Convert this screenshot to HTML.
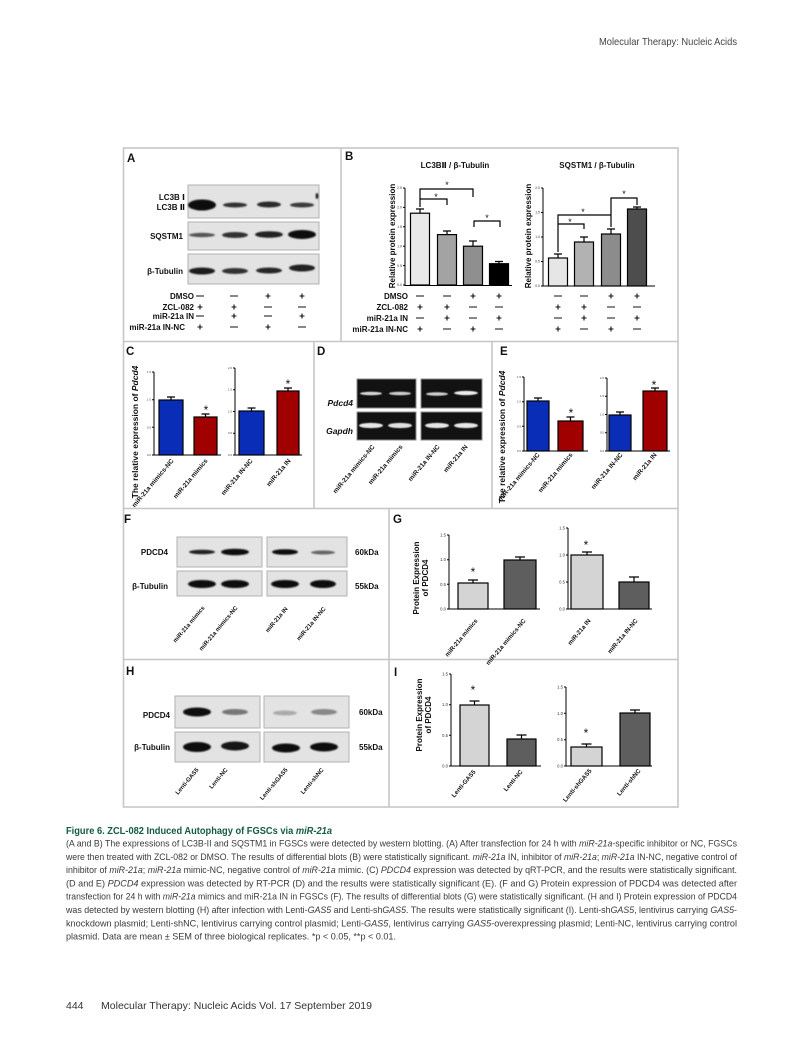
<!DOCTYPE html>
<html>
<head>
<meta charset="utf-8">
<style>
  html,body{margin:0;padding:0;background:#fff;}
  svg{display:block;}
  text{font-family:"Liberation Sans","DejaVu Sans",sans-serif;}
</style>
</head>
<body>
<svg width="803" height="1043" viewBox="0 0 803 1043" xmlns="http://www.w3.org/2000/svg">
<defs>
  <filter id="b" x="-30%" y="-100%" width="160%" height="300%"><feGaussianBlur stdDeviation="0.9"/></filter>
  <filter id="b2" x="-30%" y="-100%" width="160%" height="300%"><feGaussianBlur stdDeviation="0.6"/></filter>
</defs>
<rect width="803" height="1043" fill="#fff"/>

<!-- Header -->
<text x="737" y="45" text-anchor="end" font-size="10.5" fill="#444" textLength="138" lengthAdjust="spacingAndGlyphs">Molecular Therapy: Nucleic Acids</text>

<!-- Figure frame -->
<g fill="none" stroke="#c6c6c6" stroke-width="1.6">
  <rect x="123.5" y="148" width="554.5" height="659"/>
  <path d="M123.5,341.5 H678 M123.5,508.5 H678 M123.5,659.5 H678"/>
  <path d="M341,148 V341.5 M314,341.5 V508.5 M492,341.5 V508.5 M389,508.5 V807"/>
</g>

<!-- Panel letters -->
<g font-size="11.5" font-weight="bold" fill="#111">
  <text x="127" y="162">A</text>
  <text x="345" y="160">B</text>
  <text x="126" y="355">C</text>
  <text x="317" y="355">D</text>
  <text x="500" y="355">E</text>
  <text x="124" y="523">F</text>
  <text x="393" y="523">G</text>
  <text x="126" y="675">H</text>
  <text x="394" y="676">I</text>
</g>

<!-- ============ Panel A ============ -->
<g stroke="#b0b0b0" stroke-width="1" fill="#e3e3e3">
  <rect x="188" y="185" width="131" height="33"/>
  <rect x="188" y="222" width="131" height="28"/>
  <rect x="188" y="254" width="131" height="30"/>
</g>
<g filter="url(#b)">
  <ellipse cx="202" cy="205" rx="14" ry="5.5" fill="#0a0a0a"/>
  <ellipse cx="235" cy="205" rx="12" ry="2.5" fill="#333"/>
  <ellipse cx="269" cy="204.5" rx="12" ry="3" fill="#2a2a2a"/>
  <ellipse cx="302" cy="205" rx="12" ry="2.5" fill="#3a3a3a"/>
  <ellipse cx="317" cy="196" rx="1.3" ry="3" fill="#111"/>
  <ellipse cx="202" cy="235" rx="13" ry="2.2" fill="#555"/>
  <ellipse cx="235" cy="235" rx="13" ry="3" fill="#333"/>
  <ellipse cx="269" cy="234.5" rx="14" ry="3.3" fill="#222"/>
  <ellipse cx="302" cy="234.5" rx="14" ry="4.5" fill="#111"/>
  <ellipse cx="202" cy="271" rx="13" ry="3.5" fill="#1a1a1a"/>
  <ellipse cx="235" cy="271" rx="13" ry="3" fill="#333"/>
  <ellipse cx="269" cy="270.5" rx="13" ry="3" fill="#262626"/>
  <ellipse cx="302" cy="268" rx="13" ry="3.5" fill="#222"/>
</g>
<g font-size="8" font-weight="bold" fill="#111" text-anchor="end">
  <text x="185" y="200">LC3B Ⅰ</text>
  <text x="185" y="210">LC3B Ⅱ</text>
  <text x="183" y="239">SQSTM1</text>
  <text x="183" y="274">β-Tubulin</text>
  <text x="194" y="299">DMSO</text>
  <text x="194" y="310">ZCL-082</text>
  <text x="194" y="319">miR-21a IN</text>
  <text x="185" y="330">miR-21a IN-NC</text>
</g>
<g stroke="#111" stroke-width="1.1" fill="none">
  <!-- DMSO: - - + + -->
  <path d="M196,296 H204 M230,296 H238 M265.5,296 H270.5 M268,293.5 V298.5 M299.5,296 H304.5 M302,293.5 V298.5"/>
  <!-- ZCL: + + - - -->
  <path d="M197.5,307 H202.5 M200,304.5 V309.5 M231.5,307 H236.5 M234,304.5 V309.5 M264,307 H272 M298,307 H306"/>
  <!-- IN: - + - + -->
  <path d="M196,316 H204 M231.5,316 H236.5 M234,313.5 V318.5 M264,316 H272 M299.5,316 H304.5 M302,313.5 V318.5"/>
  <!-- IN-NC: + - + - -->
  <path d="M197.5,327 H202.5 M200,324.5 V329.5 M230,327 H238 M265.5,327 H270.5 M268,324.5 V329.5 M298,327 H306"/>
</g>

<!-- ============ Panel B ============ -->
<g font-size="8" font-weight="bold" fill="#111" text-anchor="middle">
  <text x="455" y="168">LC3BⅡ / β-Tubulin</text>
  <text x="597" y="168">SQSTM1 / β-Tubulin</text>
  <text transform="translate(395,236) rotate(-90)">Relative protein  expression</text>
  <text transform="translate(531,236) rotate(-90)">Relative protein  expression</text>
</g>
<!-- chart B1 -->
<g stroke="#000" stroke-width="1" fill="none">
  <path d="M405,188 V285.5 H512"/>
  <path d="M403,285 H405 M403,265.6 H405 M403,246.2 H405 M403,226.8 H405 M403,207.4 H405 M403,188 H405"/>
</g>
<g font-size="3.5" fill="#333" text-anchor="end">
  <text x="402" y="286.2">0.0</text><text x="402" y="266.8">0.5</text><text x="402" y="247.4">1.0</text>
  <text x="402" y="228">1.5</text><text x="402" y="208.6">2.0</text><text x="402" y="189.2">2.5</text>
</g>
<g stroke="#000" stroke-width="1.2">
  <rect x="410.5" y="213.2" width="19" height="71.8" fill="#e9e9e9"/>
  <rect x="437.5" y="234.6" width="19" height="50.4" fill="#a3a3a3"/>
  <rect x="463.5" y="246.2" width="19" height="38.8" fill="#8f8f8f"/>
  <rect x="489.5" y="263.7" width="19" height="21.3" fill="#000"/>
  <path fill="none" d="M420,213.2 V209 M416,209 H424 M447,234.6 V231 M443,231 H451 M473,246.2 V241 M469,241 H477 M499,263.7 V261.5 M495,261.5 H503"/>
  <path fill="none" d="M420,207 V189 H473 V197 M420,199 H447 V205 M474,227 V221 H500 V227"/>
</g>
<g font-size="9" fill="#111" text-anchor="middle">
  <text x="436" y="200">*</text><text x="447" y="188">*</text><text x="487" y="221">*</text>
</g>
<!-- chart B2 -->
<g stroke="#000" stroke-width="1" fill="none">
  <path d="M543,188 V286 H655"/>
  <path d="M541,286 H543 M541,261.5 H543 M541,237 H543 M541,212.5 H543 M541,188 H543"/>
</g>
<g font-size="3.5" fill="#333" text-anchor="end">
  <text x="540" y="287.2">0.0</text><text x="540" y="262.7">0.5</text><text x="540" y="238.2">1.0</text>
  <text x="540" y="213.7">1.5</text><text x="540" y="189.2">2.0</text>
</g>
<g stroke="#000" stroke-width="1.2">
  <rect x="548.5" y="258" width="19" height="28" fill="#e6e6e6"/>
  <rect x="574.5" y="242" width="19" height="44" fill="#b2b2b2"/>
  <rect x="601.5" y="234" width="19" height="52" fill="#8c8c8c"/>
  <rect x="627.5" y="209" width="19" height="77" fill="#4d4d4d"/>
  <path fill="none" d="M558,258 V254 M554,254 H562 M584,242 V237 M580,237 H588 M611,234 V229 M607,229 H615 M637,209 V207 M633,207 H641"/>
  <path fill="none" d="M558,252 V224 H584 V229 M558,224 V215 H611 V227 M611,227 V198 H637 V205"/>
</g>
<g font-size="9" fill="#111" text-anchor="middle">
  <text x="570" y="225">*</text><text x="583" y="215">*</text><text x="624" y="197">*</text>
</g>
<!-- table B -->
<g font-size="8" font-weight="bold" fill="#111" text-anchor="end">
  <text x="408" y="299">DMSO</text>
  <text x="408" y="310">ZCL-082</text>
  <text x="408" y="321">miR-21a IN</text>
  <text x="408" y="332">miR-21a IN-NC</text>
</g>
<g stroke="#111" stroke-width="1.1" fill="none">
  <!-- row1 - - + + -->
  <path d="M416,296 H424 M443,296 H451 M470.5,296 H475.5 M473,293.5 V298.5 M496.5,296 H501.5 M499,293.5 V298.5"/>
  <path d="M554,296 H562 M580,296 H588 M608.5,296 H613.5 M611,293.5 V298.5 M634.5,296 H639.5 M637,293.5 V298.5"/>
  <!-- row2 + + - - -->
  <path d="M417.5,307 H422.5 M420,304.5 V309.5 M444.5,307 H449.5 M447,304.5 V309.5 M469,307 H477 M495,307 H503"/>
  <path d="M555.5,307 H560.5 M558,304.5 V309.5 M581.5,307 H586.5 M584,304.5 V309.5 M607,307 H615 M633,307 H641"/>
  <!-- row3 - + - + -->
  <path d="M416,318 H424 M444.5,318 H449.5 M447,315.5 V320.5 M469,318 H477 M496.5,318 H501.5 M499,315.5 V320.5"/>
  <path d="M554,318 H562 M581.5,318 H586.5 M584,315.5 V320.5 M607,318 H615 M634.5,318 H639.5 M637,315.5 V320.5"/>
  <!-- row4 + - + - -->
  <path d="M417.5,329 H422.5 M420,326.5 V331.5 M443,329 H451 M470.5,329 H475.5 M473,326.5 V331.5 M495,329 H503"/>
  <path d="M555.5,329 H560.5 M558,326.5 V331.5 M580,329 H588 M608.5,329 H613.5 M611,326.5 V331.5 M633,329 H641"/>
</g>

<!-- ============ Panel C ============ -->
<text transform="translate(138,432) rotate(-90)" text-anchor="middle" font-size="8.5" font-weight="bold" fill="#111">The relative expression of <tspan font-style="italic">Pdcd4</tspan></text>
<g stroke="#000" stroke-width="1" fill="none">
  <path d="M154,372 V455 H221"/>
  <path d="M152,372 H154 M152,399.7 H154 M152,427.3 H154 M152,455 H154"/>
  <path d="M235,368 V455 H302"/>
  <path d="M233,368 H235 M233,389.75 H235 M233,411.5 H235 M233,433.25 H235 M233,455 H235"/>
</g>
<g font-size="3" fill="#444" text-anchor="end">
  <text x="151" y="373">1.5</text><text x="151" y="400.7">1.0</text><text x="151" y="428.3">0.5</text><text x="151" y="456">0.0</text>
  <text x="232" y="369">2.0</text><text x="232" y="390.7">1.5</text><text x="232" y="412.5">1.0</text><text x="232" y="434.2">0.5</text><text x="232" y="456">0.0</text>
</g>
<g stroke="#000" stroke-width="1.2">
  <rect x="159" y="400" width="24" height="55" fill="#0a2db8"/>
  <rect x="194" y="417" width="23" height="38" fill="#a10000"/>
  <rect x="239" y="411" width="25" height="44" fill="#0a2db8"/>
  <rect x="277" y="391" width="22" height="64" fill="#a10000"/>
  <path fill="none" d="M171,400 V397 M167,397 H175 M205.5,417 V414 M201.5,414 H209.5 M251.5,411 V408 M247.5,408 H255.5 M288,391 V388 M284,388 H292"/>
</g>
<g font-size="12" fill="#111" text-anchor="middle">
  <text x="206" y="414">*</text><text x="288" y="388">*</text>
</g>
<g font-size="6.5" font-weight="bold" fill="#111" text-anchor="end">
  <text transform="translate(174,461) rotate(-50)">miR-21a mimics-NC</text>
  <text transform="translate(208,461) rotate(-50)">miR-21a mimics</text>
  <text transform="translate(253,461) rotate(-50)">miR-21a IN-NC</text>
  <text transform="translate(291,461) rotate(-50)">miR-21a IN</text>
</g>

<!-- ============ Panel D ============ -->
<g fill="#121212" stroke="#8a8a8a" stroke-width="1">
  <rect x="357" y="379" width="59" height="29"/>
  <rect x="421" y="379" width="61" height="29"/>
  <rect x="357" y="412" width="59" height="28"/>
  <rect x="421" y="412" width="61" height="28"/>
</g>
<g filter="url(#b2)">
  <ellipse cx="371" cy="393.5" rx="11" ry="1.7" fill="#d8d8d8"/>
  <ellipse cx="400" cy="393.5" rx="11" ry="1.7" fill="#cfcfcf"/>
  <ellipse cx="437" cy="394" rx="11" ry="1.7" fill="#cfcfcf"/>
  <ellipse cx="466" cy="393" rx="12" ry="2.1" fill="#ececec"/>
  <ellipse cx="371" cy="425.5" rx="12" ry="2.6" fill="#e6e6e6"/>
  <ellipse cx="400" cy="425.5" rx="12" ry="2.6" fill="#e0e0e0"/>
  <ellipse cx="437" cy="425.5" rx="12" ry="2.6" fill="#e6e6e6"/>
  <ellipse cx="466" cy="425.5" rx="12" ry="2.6" fill="#e6e6e6"/>
</g>
<g font-size="8.5" font-weight="bold" font-style="italic" fill="#111" text-anchor="end">
  <text x="353" y="406">Pdcd4</text>
  <text x="353" y="434">Gapdh</text>
</g>
<g font-size="6.5" font-weight="bold" fill="#111" text-anchor="end">
  <text transform="translate(375,447) rotate(-50)">miR-21a mimics-NC</text>
  <text transform="translate(403,447) rotate(-50)">miR-21a mimics</text>
  <text transform="translate(440,447) rotate(-50)">miR-21a IN-NC</text>
  <text transform="translate(468,447) rotate(-50)">miR-21a IN</text>
</g>

<!-- ============ Panel E ============ -->
<text transform="translate(505,437) rotate(-90)" text-anchor="middle" font-size="8.5" font-weight="bold" fill="#111">The relative expression of <tspan font-style="italic">Pdcd4</tspan></text>
<g stroke="#000" stroke-width="1" fill="none">
  <path d="M524,377 V451 H588"/>
  <path d="M522,377 H524 M522,401.7 H524 M522,426.3 H524 M522,451 H524"/>
  <path d="M607,378 V451 H670"/>
  <path d="M605,378 H607 M605,396.25 H607 M605,414.5 H607 M605,432.75 H607 M605,451 H607"/>
</g>
<g font-size="3" fill="#444" text-anchor="end">
  <text x="521" y="378">1.5</text><text x="521" y="402.7">1.0</text><text x="521" y="427.3">0.5</text><text x="521" y="452">0.0</text>
  <text x="604" y="379">2.0</text><text x="604" y="397.2">1.5</text><text x="604" y="415.5">1.0</text><text x="604" y="433.7">0.5</text><text x="604" y="452">0.0</text>
</g>
<g stroke="#000" stroke-width="1.2">
  <rect x="527" y="401" width="22" height="50" fill="#0a2db8"/>
  <rect x="558" y="421" width="25" height="30" fill="#a10000"/>
  <rect x="609" y="415" width="22" height="36" fill="#0a2db8"/>
  <rect x="643" y="391" width="24" height="60" fill="#a10000"/>
  <path fill="none" d="M538,401 V398 M534,398 H542 M570.5,421 V417 M566.5,417 H574.5 M620,415 V412 M616,412 H624 M655,391 V388 M651,388 H659"/>
</g>
<g font-size="12" fill="#111" text-anchor="middle">
  <text x="571" y="417">*</text><text x="654" y="389">*</text>
</g>
<g font-size="6.5" font-weight="bold" fill="#111" text-anchor="end">
  <text transform="translate(540,455) rotate(-50)">miR-21a mimics-NC</text>
  <text transform="translate(573,455) rotate(-50)">miR-21a mimics</text>
  <text transform="translate(623,455) rotate(-50)">miR-21a IN-NC</text>
  <text transform="translate(657,455) rotate(-50)">miR-21a IN</text>
</g>

<!-- ============ Panel F ============ -->
<g stroke="#b0b0b0" stroke-width="1" fill="#e3e3e3">
  <rect x="177" y="537" width="85" height="30"/>
  <rect x="267" y="537" width="80" height="30"/>
  <rect x="177" y="571" width="85" height="25"/>
  <rect x="267" y="571" width="80" height="25"/>
</g>
<g filter="url(#b)">
  <ellipse cx="202" cy="552" rx="13" ry="2.3" fill="#222"/>
  <ellipse cx="235" cy="552" rx="14" ry="3.3" fill="#111"/>
  <ellipse cx="285" cy="552" rx="13" ry="2.8" fill="#111"/>
  <ellipse cx="323" cy="552.5" rx="12" ry="2" fill="#666"/>
  <ellipse cx="202" cy="584" rx="14" ry="4" fill="#0d0d0d"/>
  <ellipse cx="235" cy="584" rx="14" ry="4" fill="#0d0d0d"/>
  <ellipse cx="285" cy="584" rx="14" ry="4" fill="#0d0d0d"/>
  <ellipse cx="323" cy="584" rx="13" ry="4" fill="#0d0d0d"/>
</g>
<g font-size="8" font-weight="bold" fill="#111">
  <text x="168" y="555" text-anchor="end">PDCD4</text>
  <text x="168" y="589" text-anchor="end">β-Tubulin</text>
  <text x="355" y="555">60kDa</text>
  <text x="355" y="589">55kDa</text>
</g>
<g font-size="6" font-weight="bold" fill="#111" text-anchor="end">
  <text transform="translate(205,608) rotate(-50)">miR-21a mimics</text>
  <text transform="translate(238,608) rotate(-50)">miR-21a mimics-NC</text>
  <text transform="translate(288,609) rotate(-50)">miR-21a IN</text>
  <text transform="translate(326,609) rotate(-50)">miR-21a IN-NC</text>
</g>

<!-- ============ Panel G ============ -->
<g font-size="8" font-weight="bold" fill="#111" text-anchor="middle">
  <text transform="translate(419,578) rotate(-90)">Protein Expression</text>
  <text transform="translate(428,578) rotate(-90)">of PDCD4</text>
</g>
<g stroke="#000" stroke-width="1" fill="none">
  <path d="M449,535 V609 H540"/>
  <path d="M447,535 H449 M447,559.7 H449 M447,584.3 H449 M447,609 H449"/>
  <path d="M568,528 V609 H652"/>
  <path d="M566,528 H568 M566,555 H568 M566,582 H568 M566,609 H568"/>
</g>
<g font-size="4.2" fill="#333" text-anchor="end">
  <text x="446" y="536.5">1.5</text><text x="446" y="561.2">1.0</text><text x="446" y="585.8">0.5</text><text x="446" y="610.5">0.0</text>
  <text x="565" y="529.5">1.5</text><text x="565" y="556.5">1.0</text><text x="565" y="583.5">0.5</text><text x="565" y="610.5">0.0</text>
</g>
<g stroke="#000" stroke-width="1.2">
  <rect x="458" y="583" width="30" height="26" fill="#d4d4d4"/>
  <rect x="504" y="560" width="32" height="49" fill="#5e5e5e"/>
  <rect x="571" y="555" width="32" height="54" fill="#d4d4d4"/>
  <rect x="619" y="582" width="30" height="27" fill="#5e5e5e"/>
  <path fill="none" d="M473,583 V580 M468,580 H478 M520,560 V557 M515,557 H525 M587,555 V552 M582,552 H592 M634,582 V577 M629,577 H639"/>
</g>
<g font-size="12" fill="#111" text-anchor="middle">
  <text x="473" y="576">*</text><text x="586" y="549">*</text>
</g>
<g font-size="6.2" font-weight="bold" fill="#111" text-anchor="end">
  <text transform="translate(478,621) rotate(-50)">miR-21a mimics</text>
  <text transform="translate(526,621) rotate(-50)">miR-21a mimics-NC</text>
  <text transform="translate(591,621) rotate(-50)">miR-21a IN</text>
  <text transform="translate(638,621) rotate(-50)">miR-21a IN-NC</text>
</g>

<!-- ============ Panel H ============ -->
<g stroke="#b0b0b0" stroke-width="1" fill="#e3e3e3">
  <rect x="175" y="696" width="85" height="32"/>
  <rect x="264" y="696" width="85" height="32"/>
  <rect x="175" y="732" width="85" height="30"/>
  <rect x="264" y="732" width="85" height="30"/>
</g>
<g filter="url(#b)">
  <ellipse cx="197" cy="712" rx="14" ry="4.5" fill="#0d0d0d"/>
  <ellipse cx="235" cy="712" rx="13" ry="3" fill="#777"/>
  <ellipse cx="285" cy="713" rx="12" ry="2.5" fill="#aaa"/>
  <ellipse cx="324" cy="712" rx="13" ry="3" fill="#888"/>
  <ellipse cx="197" cy="747" rx="14" ry="5" fill="#0a0a0a"/>
  <ellipse cx="235" cy="746" rx="14" ry="4.5" fill="#151515"/>
  <ellipse cx="286" cy="748" rx="14" ry="4.5" fill="#0a0a0a"/>
  <ellipse cx="324" cy="747" rx="14" ry="4.5" fill="#0f0f0f"/>
</g>
<g font-size="8" font-weight="bold" fill="#111">
  <text x="170" y="718" text-anchor="end">PDCD4</text>
  <text x="170" y="750" text-anchor="end">β-Tubulin</text>
  <text x="359" y="715">60kDa</text>
  <text x="359" y="750">55kDa</text>
</g>
<g font-size="6" font-weight="bold" fill="#111" text-anchor="end">
  <text transform="translate(199,770) rotate(-50)">Lenti-GAS5</text>
  <text transform="translate(228,770) rotate(-50)">Lenti-NC</text>
  <text transform="translate(288,770) rotate(-50)">Lenti-shGAS5</text>
  <text transform="translate(324,770) rotate(-50)">Lenti-shNC</text>
</g>

<!-- ============ Panel I ============ -->
<g font-size="8" font-weight="bold" fill="#111" text-anchor="middle">
  <text transform="translate(422,715) rotate(-90)">Protein Expression</text>
  <text transform="translate(431,715) rotate(-90)">of PDCD4</text>
</g>
<g stroke="#000" stroke-width="1" fill="none">
  <path d="M451,674 V766 H541"/>
  <path d="M449,674 H451 M449,704.7 H451 M449,735.3 H451 M449,766 H451"/>
  <path d="M566,687 V766 H652"/>
  <path d="M564,687 H566 M564,713.3 H566 M564,739.7 H566 M564,766 H566"/>
</g>
<g font-size="4.2" fill="#333" text-anchor="end">
  <text x="448" y="675.5">1.5</text><text x="448" y="706.2">1.0</text><text x="448" y="736.8">0.5</text><text x="448" y="767.5">0.0</text>
  <text x="563" y="688.5">1.5</text><text x="563" y="714.8">1.0</text><text x="563" y="741.2">0.5</text><text x="563" y="767.5">0.0</text>
</g>
<g stroke="#000" stroke-width="1.2">
  <rect x="460" y="705" width="29" height="61" fill="#d4d4d4"/>
  <rect x="507" y="739" width="29" height="27" fill="#5e5e5e"/>
  <rect x="571" y="747" width="31" height="19" fill="#d4d4d4"/>
  <rect x="620" y="713" width="30" height="53" fill="#5e5e5e"/>
  <path fill="none" d="M474.5,705 V701 M469.5,701 H479.5 M521.5,739 V735 M516.5,735 H526.5 M586.5,747 V744 M581.5,744 H591.5 M635,713 V710 M630,710 H640"/>
</g>
<g font-size="12" fill="#111" text-anchor="middle">
  <text x="473" y="694">*</text><text x="586" y="737">*</text>
</g>
<g font-size="6.2" font-weight="bold" fill="#111" text-anchor="end">
  <text transform="translate(476,772) rotate(-50)">Lenti-GAS5</text>
  <text transform="translate(523,772) rotate(-50)">Lenti-NC</text>
  <text transform="translate(592,771) rotate(-50)">Lenti-shGAS5</text>
  <text transform="translate(641,771) rotate(-50)">Lenti-shNC</text>
</g>

<!-- ============ Caption ============ -->
<text x="66" y="834" font-size="10" font-weight="bold" fill="#155a43" textLength="266" lengthAdjust="spacingAndGlyphs">Figure 6. ZCL-082 Induced Autophagy of FGSCs via <tspan font-style="italic">miR-21a</tspan></text>
<g font-size="9.5" fill="#3a3a3a">
  <text x="66" y="846.5" textLength="671" lengthAdjust="spacingAndGlyphs">(A and B) The expressions of LC3B-II and SQSTM1 in FGSCs were detected by western blotting. (A) After transfection for 24 h with <tspan font-style="italic">miR-21a</tspan>-specific inhibitor or NC, FGSCs</text>
  <text x="66" y="859.8" textLength="671" lengthAdjust="spacingAndGlyphs">were then treated with ZCL-082 or DMSO. The results of differential blots (B) were statistically significant. <tspan font-style="italic">miR-21a</tspan> IN, inhibitor of <tspan font-style="italic">miR-21a</tspan>; <tspan font-style="italic">miR-21a</tspan> IN-NC, negative control of</text>
  <text x="66" y="873.1" textLength="671" lengthAdjust="spacingAndGlyphs">inhibitor of <tspan font-style="italic">miR-21a</tspan>; <tspan font-style="italic">miR-21a</tspan> mimic-NC, negative control of <tspan font-style="italic">miR-21a</tspan> mimic. (C) <tspan font-style="italic">PDCD4</tspan> expression was detected by qRT-PCR, and the results were statistically significant.</text>
  <text x="66" y="886.4" textLength="671" lengthAdjust="spacingAndGlyphs">(D and E) <tspan font-style="italic">PDCD4</tspan> expression was detected by RT-PCR (D) and the results were statistically significant (E). (F and G) Protein expression of PDCD4 was detected after</text>
  <text x="66" y="899.7" textLength="671" lengthAdjust="spacingAndGlyphs">transfection for 24 h with <tspan font-style="italic">miR-21a</tspan> mimics and miR-21a IN in FGSCs (F). The results of differential blots (G) were statistically significant. (H and I) Protein expression of PDCD4</text>
  <text x="66" y="913" textLength="671" lengthAdjust="spacingAndGlyphs">was detected by western blotting (H) after infection with Lenti-<tspan font-style="italic">GAS5</tspan> and Lenti-sh<tspan font-style="italic">GAS5</tspan>. The results were statistically significant (I). Lenti-sh<tspan font-style="italic">GAS5</tspan>, lentivirus carrying <tspan font-style="italic">GAS5</tspan>-</text>
  <text x="66" y="926.3" textLength="671" lengthAdjust="spacingAndGlyphs">knockdown plasmid; Lenti-shNC, lentivirus carrying control plasmid; Lenti-<tspan font-style="italic">GAS5</tspan>, lentivirus carrying <tspan font-style="italic">GAS5</tspan>-overexpressing plasmid; Lenti-NC, lentivirus carrying control</text>
  <text x="66" y="939.6" textLength="330" lengthAdjust="spacingAndGlyphs">plasmid. Data are mean ± SEM of three biological replicates. *p &lt; 0.05, **p &lt; 0.01.</text>
</g>

<!-- Footer -->
<g font-size="10.5" fill="#333">
  <text x="66" y="1009">444</text>
  <text x="101" y="1009" textLength="271" lengthAdjust="spacingAndGlyphs">Molecular Therapy: Nucleic Acids Vol. 17 September 2019</text>
</g>
</svg>
</body>
</html>
